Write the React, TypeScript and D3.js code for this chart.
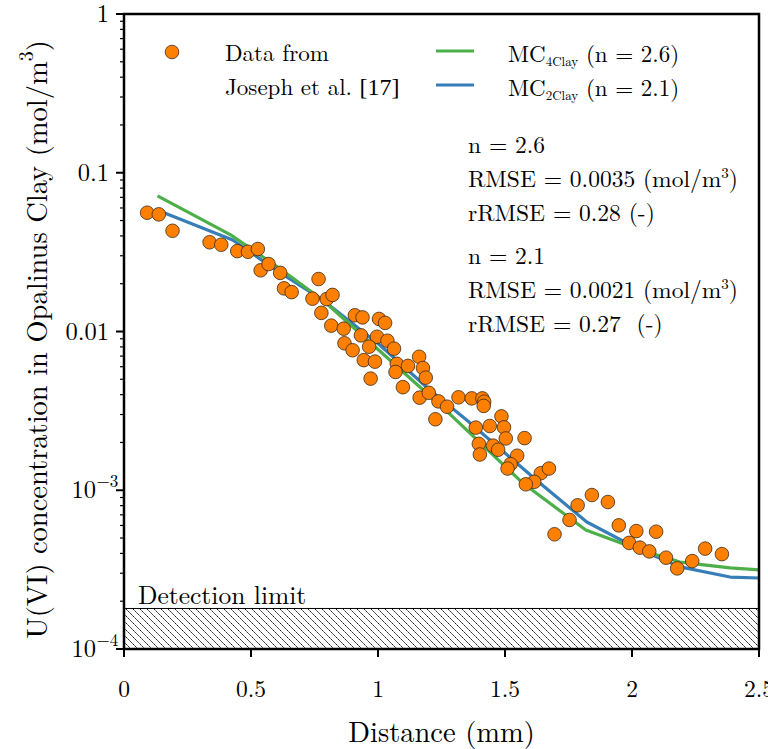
import React from 'react';
import * as d3 from 'd3';

// Experimental data (Joseph et al. [17])
const dataX = [0.091,0.137,0.191,0.337,0.383,0.446,0.488,0.527,0.538,0.569,0.615,0.630,0.660,0.766,0.742,0.777,0.798,0.821,0.816,0.865,0.909,0.939,1.004,1.028,0.933,0.996,1.037,0.868,0.965,0.900,1.063,0.944,0.988,1.162,1.074,1.118,1.069,1.177,1.188,0.971,1.098,1.164,1.200,1.238,1.272,1.226,1.317,1.369,1.411,1.418,1.416,1.486,1.385,1.440,1.496,1.503,1.577,1.397,1.453,1.473,1.401,1.548,1.522,1.510,1.641,1.673,1.615,1.582,1.695,1.754,1.786,1.842,1.905,1.948,2.017,2.095,1.989,2.031,2.068,2.134,2.178,2.237,2.288,2.354];
const dataY = [0.056,0.0547,0.0431,0.0365,0.0352,0.0321,0.0318,0.0331,0.0243,0.0266,0.0234,0.0187,0.0177,0.0214,0.0161,0.0131,0.0160,0.0170,0.01089,0.01042,0.01265,0.01227,0.0120,0.01133,0.00946,0.00927,0.00875,0.00843,0.00802,0.00762,0.0078,0.0066,0.00646,0.00693,0.00626,0.00607,0.00556,0.00589,0.00512,0.00505,0.00446,0.00383,0.00411,0.00363,0.00336,0.0028,0.00385,0.00379,0.00379,0.00361,0.0034,0.00292,0.00248,0.00254,0.00249,0.00212,0.00213,0.00196,0.00191,0.0018,0.00168,0.00165,0.00146,0.00137,0.00128,0.00137,0.00113,0.00109,5.28e-4,6.5e-4,8.04e-4,9.33e-4,8.43e-4,6.01e-4,5.53e-4,5.48e-4,4.66e-4,4.35e-4,4.12e-4,3.76e-4,3.22e-4,3.58e-4,4.29e-4,3.96e-4];

// Model MC4Clay (n = 2.6)
const mc4X = [0.132,0.420,0.605,0.782,1.007,1.283,1.570,1.818,2.031,2.189,2.386,2.504];
const mc4Y = [0.0715,0.0406,0.0255,0.0158,0.00753,0.00302,0.00111,5.62e-4,4.21e-4,3.53e-4,3.24e-4,3.15e-4];

// Model MC2Clay (n = 2.1)
const mc2X = [0.160,0.428,0.605,0.782,1.007,1.204,1.349,1.637,1.822,2.031,2.189,2.386,2.504];
const mc2Y = [0.0557,0.0377,0.0240,0.0158,0.00822,0.00428,0.00277,0.00111,6.31e-4,4.21e-4,3.29e-4,2.84e-4,2.80e-4];

const detectionLimit = 1.8e-4;

const xTicks = [0, 0.5, 1, 1.5, 2, 2.5];
const xTickLabels = ['0', '0.5', '1', '1.5', '2', '2.5'];
const yTicks = [1, 0.1, 0.01, 1e-3, 1e-4];
const yTickBase = ['1', '0.1', '0.01', '10', '10'];
const yTickExp = ['', '', '', '−3', '−4'];

const statsLines = [
  ['n = 2.6', ''],
  ['RMSE = 0.0035 (mol/m', '3', ')'],
  ['rRMSE = 0.28 (-)', ''],
  ['n = 2.1', ''],
  ['RMSE = 0.0021 (mol/m', '3', ')'],
  ['rRMSE = 0.27  (-)', ''],
];

const ORANGE = '#ff7f00';
const GREEN = '#4daf4a';
const BLUE = '#377eb8';
const FONT = "'Latin Modern Roman'";

const W = 768, H = 749;
const L = 124, R = 759, T = 14, B = 649;

export default function App() {
  const x = d3.scaleLinear().domain([0, 2.5]).range([L, R]);
  const y = d3.scaleLog().domain([1e-4, 1]).range([B, T]);

  const line = d3.line<[number, number]>().x(d => x(d[0])).y(d => y(d[1]));
  const mc4 = line(mc4X.map((v, i) => [v, mc4Y[i]] as [number, number])) || '';
  const mc2 = line(mc2X.map((v, i) => [v, mc2Y[i]] as [number, number])) || '';

  const minor: number[] = [];
  for (let e = -4; e < 0; e++) for (let k = 2; k <= 9; k++) minor.push(k * Math.pow(10, e));

  const statY = [153, 187, 221, 264, 298, 332];
  const ts = { fontFamily: FONT, whiteSpace: 'pre', fill: '#000' } as React.CSSProperties;

  return (
    <svg width={W} height={H} style={{ position: 'absolute', left: 0, top: 0, background: '#fff' }}>
      <defs>
        <pattern id="hatch" patternUnits="userSpaceOnUse" width={7} height={7}>
          <path d="M0,0 L7,7 M-1,6 L1,8 M6,-1 L8,1" stroke="#000" strokeWidth={0.9} strokeDasharray="2.2,0.8" />
        </pattern>
        <clipPath id="plotclip"><rect x={L} y={T} width={R - L} height={B - T} /></clipPath>
      </defs>
      <rect x={0} y={0} width={W} height={H} fill="#fff" />

      {/* detection limit */}
      <rect x={L} y={y(detectionLimit)} width={R - L} height={B - y(detectionLimit)} fill="url(#hatch)" />
      <line x1={L} x2={R} y1={y(detectionLimit)} y2={y(detectionLimit)} stroke="#000" strokeWidth={1} />
      <text style={ts} x={138} y={y(detectionLimit) - 4} fontSize={25.5}>Detection limit</text>

      {/* model lines */}
      <g clipPath="url(#plotclip)">
        <path d={mc2} fill="none" stroke={BLUE} strokeWidth={3.2} strokeLinejoin="round" />
        <path d={mc4} fill="none" stroke={GREEN} strokeWidth={3.2} strokeLinejoin="round" />
      </g>

      {/* data */}
      <g>
        {dataX.map((v, i) => (
          <circle key={i} cx={x(v)} cy={y(dataY[i])} r={6.8} fill={ORANGE} stroke="#3a2a1a" strokeWidth={0.8} />
        ))}
      </g>

      {/* axes frame */}
      <rect x={L} y={T} width={R - L} height={B - T} fill="none" stroke="#000" strokeWidth={2.5} />

      {/* x ticks */}
      {xTicks.map((t, i) => (
        <g key={i}>
          <line x1={x(t)} x2={x(t)} y1={B} y2={B + 8} stroke="#000" strokeWidth={2} />
          <text style={ts} x={x(t)} y={697} fontSize={23.5} textAnchor="middle">{xTickLabels[i]}</text>
        </g>
      ))}

      {/* y ticks */}
      {minor.map((t, i) => (
        <line key={i} x1={L - 4} x2={L} y1={y(t)} y2={y(t)} stroke="#000" strokeWidth={1.2} />
      ))}
      {yTicks.map((t, i) => (
        <g key={i}>
          <line x1={L - 8} x2={L} y1={y(t)} y2={y(t)} stroke="#000" strokeWidth={2} />
          <text style={ts} x={yTickExp[i] ? 96 : 109} y={y(t) + 8} fontSize={24.5} textAnchor="end">{yTickBase[i]}</text>
          {yTickExp[i] && (
            <text style={ts} x={96.5} y={y(t) - 3} fontSize={17} textAnchor="start">{yTickExp[i]}</text>
          )}
        </g>
      ))}

      {/* axis labels */}
      <text style={ts} x={(L + R) / 2} y={742} fontSize={28.5} textAnchor="middle">Distance (mm)</text>
      <text style={ts} transform={`translate(47,${(T + B) / 2 + 8}) rotate(-90)`} fontSize={28.5} textAnchor="middle">
        U(VI) concentration in Opalinus Clay (mol/m<tspan dy={-14} fontSize={20}>3</tspan><tspan dy={14}>)</tspan>
      </text>

      {/* legend: data */}
      <circle cx={172} cy={52} r={6.8} fill={ORANGE} stroke="#3a2a1a" strokeWidth={0.8} />
      <text style={ts} x={225} y={61} fontSize={23}>Data from</text>
      <text style={ts} x={225} y={95} fontSize={23}>Joseph et al. <tspan style={{ fontFamily: "'Liberation Serif'", fill: '#000' }} fontSize={24}>[17]</tspan></text>

      {/* legend: models */}
      <line x1={436} x2={474} y1={51} y2={51} stroke={GREEN} strokeWidth={3.2} />
      <text style={ts} x={508} y={62} fontSize={23}>MC<tspan fontSize={13} dy={4}>4Clay</tspan><tspan dy={-4}> (n = 2.6)</tspan></text>
      <line x1={436} x2={474} y1={85} y2={85} stroke={BLUE} strokeWidth={3.2} />
      <text style={ts} x={508} y={96} fontSize={23}>MC<tspan fontSize={13} dy={4}>2Clay</tspan><tspan dy={-4}> (n = 2.1)</tspan></text>

      {/* stats */}
      {statsLines.map((s, i) => (
        <text style={ts} key={i} x={468} y={statY[i]} fontSize={23.5}>
          {s[0]}{s[1] ? <tspan dy={-9} fontSize={15}>{s[1]}</tspan> : null}{s[2] ? <tspan dy={9}>{s[2]}</tspan> : null}
        </text>
      ))}
    </svg>
  );
}
